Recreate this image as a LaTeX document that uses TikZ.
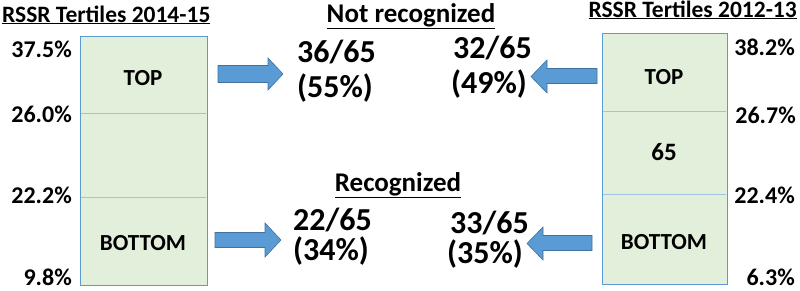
\documentclass[tikz,border=0pt]{standalone}
\usepackage{fontspec}
\setmainfont{Carlito}
\definecolor{boxfill}{HTML}{E2EFDA}
\definecolor{boxline}{HTML}{5B9BD5}
\definecolor{divline}{HTML}{9DC3E6}
\definecolor{arrfill}{HTML}{5B9BD5}
\definecolor{arrline}{HTML}{41719C}
\tikzset{
  tbox/.style={fill=boxfill, draw=boxline, line width=0.8pt},
  divl/.style={draw=divline, line width=0.8pt},
  barrow/.style={fill=arrfill, draw=arrline, line width=0.6pt, line join=miter},
  header/.style={inner sep=0pt, font=\fontsize{23.5}{26}\selectfont\bfseries},
  midhead/.style={inner sep=0pt, font=\fontsize{27}{30}\selectfont\bfseries},
  pct/.style={inner sep=0pt, font=\fontsize{24}{28}\selectfont\bfseries},
  lab/.style={inner sep=0pt, font=\fontsize{23}{26}\selectfont\bfseries},
  big/.style={inner sep=0pt, anchor=base west, font=\fontsize{32}{36}\selectfont\bfseries},
}
\begin{document}
\begin{tikzpicture}[x=1pt,y=-1pt]
\useasboundingbox (0,0) rectangle (800,290);
% boxes
\path[tbox] (80,36) rectangle (207,285);
\draw[divl] (80.8,113) -- (206.2,113);
\draw[divl] (80.8,197) -- (206.2,197);
\path[tbox] (602,33) rectangle (727,284);
\draw[divl] (602.8,111) -- (726.2,111);
\draw[divl] (602.8,194) -- (726.2,194);
% box labels
\node[lab] (ltop) at (143,78) {TOP};
\node[lab] (lbot) at (143,243) {BOTTOM};
\node[lab] (rtop) at (664,77) {TOP};
\node[lab, font=\fontsize{25}{28}\selectfont\bfseries] (rmid) at (664,152) {65};
\node[lab] (rbot) at (664,242) {BOTTOM};
% headers
\node[header, anchor=base west] (hl) at (2,22) {\underline{RSSR Tertiles 2014-15}};
\node[header, anchor=base east] (hr) at (797,17) {\underline{RSSR Tertiles 2012-13}};
\node[midhead, anchor=base] (hnr) at (411,22) {\underline{Not recognized}};
\node[midhead, anchor=base] (hrc) at (398,191) {\underline{Recognized}};
% percentages
\node[pct, anchor=base east] (p1) at (72,57) {37.5\%};
\node[pct, anchor=base east] (p2) at (72,122) {26.0\%};
\node[pct, anchor=base east] (p3) at (72,203) {22.2\%};
\node[pct, anchor=base east] (p4) at (72,285) {9.8\%};
\node[pct, anchor=base east] (q1) at (795,55) {38.2\%};
\node[pct, anchor=base east] (q2) at (796,123) {26.7\%};
\node[pct, anchor=base east] (q3) at (795,203) {22.4\%};
\node[pct, anchor=base east] (q4) at (795,285) {6.3\%};
% big numbers
\node[big] (a1) at (297,62) {36/65};
\node[big] (a2) at (297,97) {(55\%)};
\node[big] (b1) at (453,58) {32/65};
\node[big] (b2) at (451,93) {(49\%)};
\node[big] (c1) at (293,230) {22/65};
\node[big] (c2) at (293,260) {(34\%)};
\node[big] (d1) at (450,233) {33/65};
\node[big] (d2) at (447,263) {(35\%)};
% block arrows
\draw[barrow] (218,65.5) -- (268,65.5) -- (268,58) -- (283,74) -- (268,90) -- (268,82.5) -- (218,82.5) -- cycle;
\draw[barrow] (215,232.5) -- (265,232.5) -- (265,223) -- (281,240) -- (265,257) -- (265,247.5) -- (215,247.5) -- cycle;
\draw[barrow] (597,68.5) -- (547,68.5) -- (547,60) -- (531,76.5) -- (547,93) -- (547,83.5) -- (597,83.5) -- cycle;
\draw[barrow] (592,235.5) -- (543,235.5) -- (543,227) -- (527,243.5) -- (543,260) -- (543,250.5) -- (592,250.5) -- cycle;
\end{tikzpicture}
\end{document}
